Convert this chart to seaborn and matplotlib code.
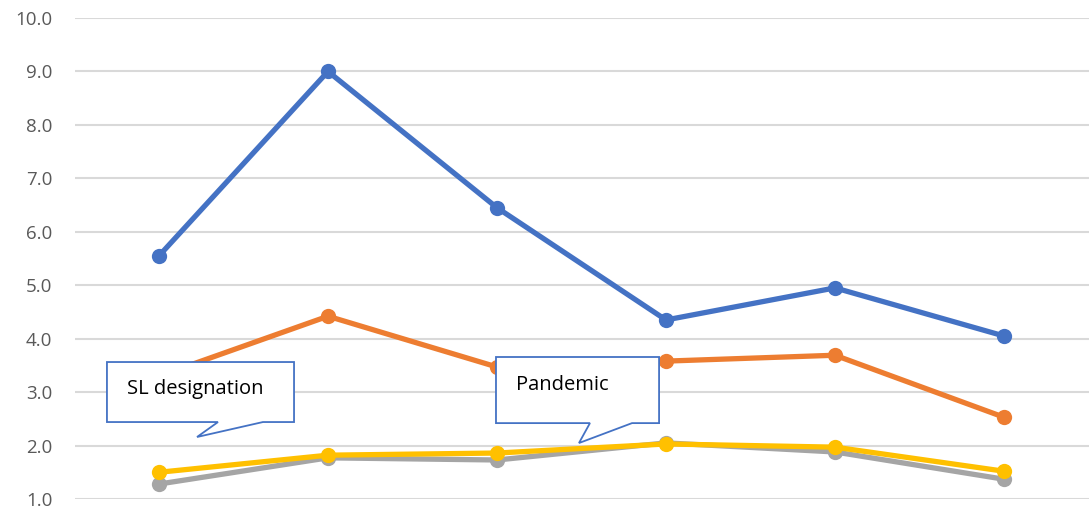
import numpy as np
import pandas as pd
import seaborn as sns
import matplotlib.pyplot as plt
from matplotlib.patches import Polygon

# values (6 unlabelled periods)
periods = [0, 1, 2, 3, 4, 5]
blue = [5.55, 9.0, 6.45, 4.35, 4.95, 4.05]
orange = [3.3, 4.42, 3.47, 3.58, 3.69, 2.53]
gray = [1.28, 1.77, 1.73, 2.05, 1.88, 1.37]
yellow = [1.5, 1.82, 1.86, 2.03, 1.97, 1.52]
series_names = ["blue", "orange", "gray", "yellow"]
colors = ["#4472C4", "#ED7D31", "#A5A5A5", "#FFC000"]
yticks = [1, 2, 3, 4, 5, 6, 7, 8, 9, 10]

df = pd.DataFrame({
    "period": periods * 4,
    "value": blue + orange + gray + yellow,
    "series": np.repeat(series_names, len(periods)),
})

sns.set_style("white")
plt.rcParams["font.family"] = ["Open Sans", "DejaVu Sans"]

fig = plt.figure(figsize=(10.9, 5.13), dpi=100)
ax = fig.add_axes([74.5 / 1090, 14 / 513, 1014 / 1090, 481 / 513])

sns.lineplot(data=df, x="period", y="value", hue="series",
             palette=dict(zip(series_names, colors)), marker="o",
             markersize=11, markeredgewidth=0, linewidth=3.8,
             legend=False, ax=ax)

ax.set_xlim(-0.5, 5.5)
ax.set_ylim(1, 10)
ax.set_yticks(yticks)
ax.set_yticklabels([f"{v:.1f}" for v in yticks], color="#595959", fontsize=13.5)
ax.set_xticks([])
ax.set_xlabel("")
ax.set_ylabel("")
ax.tick_params(axis="y", length=0, pad=16)
ax.yaxis.grid(True, color="#D9D9D9", linewidth=1.5)
ax.set_axisbelow(True)
for s in ax.spines.values():
    s.set_visible(False)


def callout(box, tail, label, tx, ty):
    x0, x1, y0, y1 = box
    b0, b1, tipx, tipy = tail
    pts = [(x0, y1), (x1, y1), (x1, y0), (b1, y0), (tipx, tipy),
           (b0, y0), (x0, y0)]
    ax.add_patch(Polygon(pts, closed=True, facecolor="white",
                         edgecolor="#4472C4", linewidth=1.3, zorder=10,
                         clip_on=False))
    ax.text(tx, ty, label, fontsize=14.5, color="black", va="center",
            ha="left", zorder=11)


callout((-0.308, 0.799, 2.44, 3.563), (0.349, 0.615, 0.225, 2.16),
        "SL designation", -0.19, 3.05)
callout((1.994, 2.959, 2.42, 3.657), (2.550, 2.799, 2.485, 2.047),
        "Pandemic", 2.11, 3.14)

fig.savefig("out.png", dpi=100)
